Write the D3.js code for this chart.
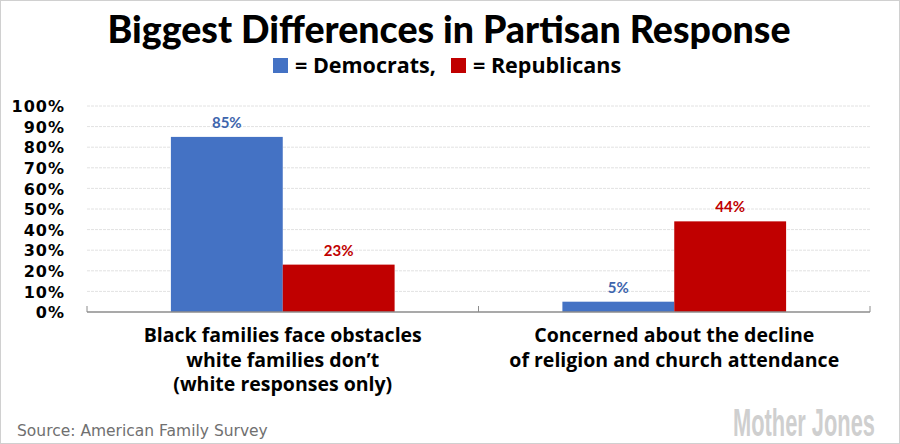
<!DOCTYPE html>
<html>
<head>
<meta charset="utf-8">
<script src="https://cdn.jsdelivr.net/npm/d3@7"></script>
<style>
  body { margin: 0; background: #fff; }
  svg { display: block; font-family: "Open Sans", Lato, sans-serif; }
</style>
</head>
<body>
<div id="chart"></div>
<script>
const categories = [
  ["Black families face obstacles", "white families don\u2019t", "(white responses only)"],
  ["Concerned about the decline", "of religion and church attendance"]
];
const democrats = [85, 5];
const republicans = [23, 44];
const seriesNames = ["Democrats", "Republicans"];
const yTicks = [0, 10, 20, 30, 40, 50, 60, 70, 80, 90, 100];

const width = 900, height = 444;
const margin = { top: 106, right: 30, bottom: 132, left: 87 };
const colors = ["#4472C4", "#C00000"];
const labelColors = ["#3E65AD", "#C00000"];

const svg = d3.select("#chart").append("svg")
  .attr("width", width)
  .attr("height", height);

// thin frame round the picture
svg.append("rect")
  .attr("x", 0.5).attr("y", 0.5)
  .attr("width", width - 1).attr("height", height - 1)
  .attr("fill", "#fff")
  .attr("stroke", "#d0d0d0");

svg.append("text")
  .attr("x", 449).attr("y", 43)
  .attr("text-anchor", "middle")
  .attr("font-family", "Lato, sans-serif")
  .attr("font-size", 37.5)
  .attr("font-weight", 900)
  .attr("fill", "#000")
  .text("Biggest Differences in Partisan Response");

// legend line
const legend = svg.append("g").attr("transform", "translate(273, 58)");
const legendItems = [{ x: 0, name: "= Democrats," }, { x: 178, name: "= Republicans" }];
legendItems.forEach((d, i) => {
  legend.append("rect")
    .attr("x", d.x).attr("y", 0)
    .attr("width", 15).attr("height", 15)
    .attr("fill", colors[i]);
  legend.append("text")
    .attr("x", d.x + 22).attr("y", 14.5)
    .attr("font-size", 21.5)
    .attr("font-weight", 700)
    .attr("fill", "#000")
    .text(d.name);
});

const x0 = d3.scaleBand()
  .domain(d3.range(categories.length))
  .range([margin.left, width - margin.right]);

const x1 = d3.scaleBand()
  .domain(seriesNames)
  .range([0, x0.bandwidth()])
  .paddingInner(0)
  .paddingOuter(0.75);

const y = d3.scaleLinear()
  .domain([0, 100])
  .range([height - margin.bottom, margin.top]);

// gridlines
svg.append("g")
  .selectAll("line")
  .data(yTicks.filter(d => d > 0))
  .join("line")
  .attr("x1", margin.left).attr("x2", width - margin.right)
  .attr("y1", d => y(d)).attr("y2", d => y(d))
  .attr("stroke", "#e2e2e2")
  .attr("stroke-dasharray", "3,1");

const yAxis = svg.append("g")
  .attr("transform", `translate(${margin.left - 19},0)`)
  .call(d3.axisLeft(y).tickValues(yTicks).tickFormat(d => d + "%").tickSize(0));
yAxis.select(".domain").remove();
yAxis.selectAll("text")
  .attr("font-family", "DejaVu Sans, sans-serif")
  .attr("font-size", 16)
  .attr("font-weight", 700)
  .attr("letter-spacing", 1)
  .attr("fill", "#000")
  .attr("dy", "0.36em");

const rows = categories.map((c, i) => ({ i, values: [democrats[i], republicans[i]] }));

const groups = svg.append("g")
  .selectAll("g")
  .data(rows)
  .join("g")
  .attr("transform", d => `translate(${x0(d.i)},0)`);

groups.selectAll("rect")
  .data(d => d.values.map((v, k) => ({ v, k })))
  .join("rect")
  .attr("x", d => x1(seriesNames[d.k]))
  .attr("y", d => y(d.v))
  .attr("width", x1.bandwidth())
  .attr("height", d => y(0) - y(d.v))
  .attr("fill", d => colors[d.k]);

groups.selectAll("text.val")
  .data(d => d.values.map((v, k) => ({ v, k })))
  .join("text")
  .attr("class", "val")
  .attr("x", d => x1(seriesNames[d.k]) + x1.bandwidth() / 2)
  .attr("y", d => y(d.v) - 9)
  .attr("text-anchor", "middle")
  .attr("font-family", "Lato, sans-serif")
  .attr("font-size", 15)
  .attr("font-weight", 700)
  .attr("fill", d => labelColors[d.k])
  .text(d => d.v + "%");

// baseline with category dividers
const base = svg.append("g");
base.append("line")
  .attr("x1", margin.left).attr("x2", width - margin.right)
  .attr("y1", y(0)).attr("y2", y(0))
  .attr("stroke", "#8c8c8c").attr("stroke-width", 1.5);
const dividers = [margin.left].concat(d3.range(categories.length).map(i => x0(i) + x0.bandwidth()));
base.selectAll("line.tick")
  .data(dividers)
  .join("line")
  .attr("class", "tick")
  .attr("x1", d => d).attr("x2", d => d)
  .attr("y1", y(0) - 6).attr("y2", y(0))
  .attr("stroke", "#8c8c8c");

// category labels
svg.append("g")
  .selectAll("text")
  .data(categories)
  .join("text")
  .attr("x", (d, i) => x0(i) + x0.bandwidth() / 2)
  .attr("y", 342)
  .attr("text-anchor", "middle")
  .attr("font-size", 19.5)
  .attr("font-weight", 700)
  .attr("fill", "#000")
  .selectAll("tspan")
  .data(d => d)
  .join("tspan")
  .attr("x", function () { return this.parentNode.getAttribute("x"); })
  .attr("dy", (d, i) => i === 0 ? 0 : 24.5)
  .text(d => d);

svg.append("text")
  .attr("x", 17).attr("y", 436)
  .attr("font-family", "DejaVu Sans, sans-serif")
  .attr("font-size", 15.5)
  .attr("fill", "#707070")
  .text("Source: American Family Survey");

// logo, narrow and tall
svg.append("text")
  .attr("transform", "translate(733,436) scale(1,1.75)")
  .attr("font-family", "Liberation Sans, sans-serif")
  .attr("font-size", 22)
  .attr("font-weight", 700)
  .attr("textLength", 142)
  .attr("lengthAdjust", "spacingAndGlyphs")
  .attr("fill", "#cfcfcf")
  .text("Mother Jones");
</script>
</body>
</html>
